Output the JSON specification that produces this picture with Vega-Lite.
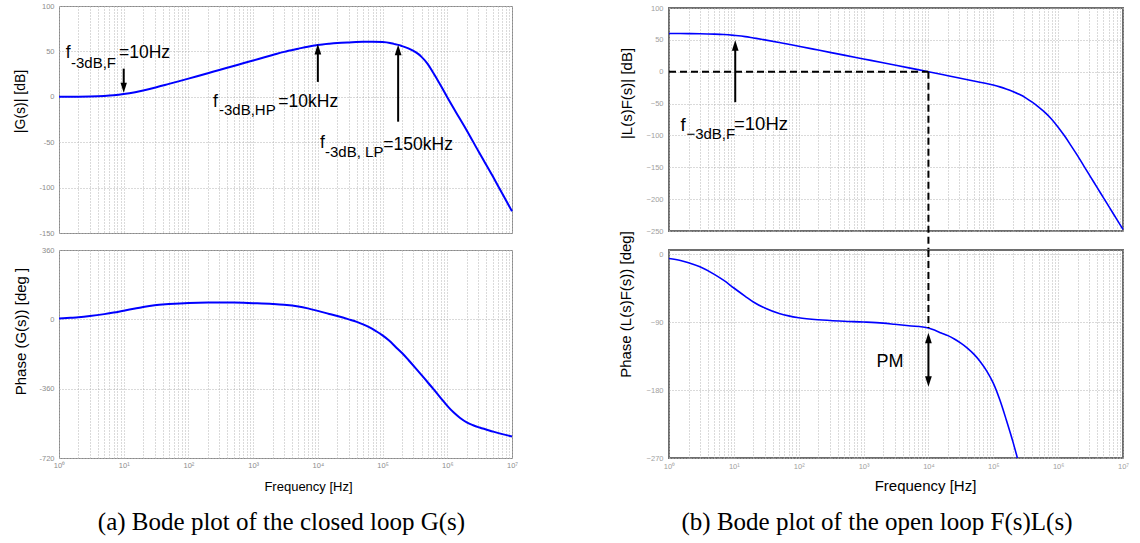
{
  "$schema": "https://vega.github.io/schema/vega-lite/v6.json",
  "background": "white",
  "padding": {"left": 12, "top": 1, "right": 0, "bottom": 0},
  "config": {
    "font": "Liberation Sans",
    "axis": {
      "labelFont": "Liberation Sans",
      "labelFontSize": 7.5,
      "labelColor": "#8c8c8c",
      "titleFont": "Liberation Sans",
      "titleFontWeight": "normal",
      "titleColor": "black",
      "domain": false,
      "ticks": false,
      "grid": true,
      "gridColor": "#b4b4b4",
      "gridDash": [1, 2],
      "gridWidth": 1,
      "labelOverlap": false,
      "labelFlush": false
    },
    "title": {"font": "Liberation Serif", "fontSize": 25, "fontWeight": "normal", "color": "black"}
  },
  "datasets": {
    "lt_curve": [
      {"f": 1, "v": 0}, {"f": 1.5, "v": 0.1}, {"f": 2, "v": 0.17}, {"f": 3, "v": 0.37}, {"f": 4, "v": 0.64}, {"f": 5, "v": 0.97}, {"f": 7, "v": 1.7},
      {"f": 10, "v": 3.0}, {"f": 15, "v": 5.1}, {"f": 20, "v": 7.0}, {"f": 30, "v": 10.0}, {"f": 50, "v": 14.2}, {"f": 70, "v": 17.0},
      {"f": 100, "v": 20.0}, {"f": 150, "v": 23.5}, {"f": 200, "v": 26.0}, {"f": 300, "v": 29.5}, {"f": 500, "v": 34.0}, {"f": 700, "v": 36.9},
      {"f": 1000, "v": 40.0}, {"f": 1500, "v": 43.5}, {"f": 2000, "v": 46.0}, {"f": 3000, "v": 49.5}, {"f": 5000, "v": 53.0}, {"f": 7000, "v": 55.2},
      {"f": 10000, "v": 57.0}, {"f": 15000, "v": 58.4}, {"f": 20000, "v": 59.2}, {"f": 30000, "v": 59.9}, {"f": 50000, "v": 60.5}, {"f": 70000, "v": 60.7},
      {"f": 100000, "v": 60.3}, {"f": 130000, "v": 59.3}, {"f": 150000, "v": 58.3}, {"f": 175000, "v": 57.2}, {"f": 200000, "v": 55.8},
      {"f": 250000, "v": 53.3}, {"f": 300000, "v": 50.5}, {"f": 350000, "v": 47.5}, {"f": 400000, "v": 44}, {"f": 500000, "v": 36},
      {"f": 600000, "v": 27}, {"f": 700000, "v": 19}, {"f": 800000, "v": 12}, {"f": 1000000, "v": -0.5}, {"f": 1500000, "v": -22},
      {"f": 2000000, "v": -37}, {"f": 3000000, "v": -59.5}, {"f": 5000000, "v": -87}, {"f": 7000000, "v": -106}, {"f": 10000000, "v": -126}
    ],
    "lb_curve": [
      {"f": 1, "v": 4}, {"f": 1.5, "v": 8}, {"f": 2, "v": 11}, {"f": 3, "v": 17}, {"f": 5, "v": 27}, {"f": 7, "v": 35},
      {"f": 10, "v": 45}, {"f": 15, "v": 56}, {"f": 20, "v": 64}, {"f": 30, "v": 73}, {"f": 50, "v": 79}, {"f": 100, "v": 85},
      {"f": 200, "v": 87}, {"f": 500, "v": 87}, {"f": 1000, "v": 84}, {"f": 2000, "v": 80}, {"f": 3000, "v": 76}, {"f": 5000, "v": 67},
      {"f": 7000, "v": 57}, {"f": 10000, "v": 44}, {"f": 15000, "v": 28}, {"f": 20000, "v": 17}, {"f": 30000, "v": 0},
      {"f": 40000, "v": -13}, {"f": 50000, "v": -26}, {"f": 63000, "v": -42}, {"f": 79000, "v": -61}, {"f": 100000, "v": -83},
      {"f": 126000, "v": -110}, {"f": 158000, "v": -142}, {"f": 200000, "v": -175}, {"f": 251000, "v": -211}, {"f": 316000, "v": -249},
      {"f": 398000, "v": -288}, {"f": 501000, "v": -328}, {"f": 631000, "v": -368}, {"f": 794000, "v": -409}, {"f": 1000000, "v": -449},
      {"f": 1260000, "v": -484}, {"f": 1580000, "v": -512}, {"f": 2000000, "v": -535}, {"f": 2510000, "v": -550}, {"f": 3160000, "v": -562},
      {"f": 5010000, "v": -582}, {"f": 7080000, "v": -596}, {"f": 10000000, "v": -608}
    ],
    "rt_curve": [
      {"f": 1, "v": 60}, {"f": 1.5, "v": 59.9}, {"f": 2, "v": 59.8}, {"f": 3, "v": 59.6}, {"f": 5, "v": 59.0}, {"f": 7, "v": 58.3},
      {"f": 10, "v": 57.0}, {"f": 15, "v": 55.1}, {"f": 20, "v": 53.0}, {"f": 30, "v": 50.0}, {"f": 50, "v": 45.9}, {"f": 70, "v": 43.0},
      {"f": 100, "v": 40.0}, {"f": 200, "v": 34.0}, {"f": 500, "v": 26.0}, {"f": 1000, "v": 20.0}, {"f": 2000, "v": 14.0}, {"f": 5000, "v": 6.0},
      {"f": 10000, "v": 0}, {"f": 20000, "v": -6.2}, {"f": 50000, "v": -14.5}, {"f": 100000, "v": -21}, {"f": 126000, "v": -23.8},
      {"f": 158000, "v": -27}, {"f": 200000, "v": -30.9}, {"f": 251000, "v": -35.5}, {"f": 316000, "v": -41}, {"f": 398000, "v": -47.8},
      {"f": 501000, "v": -55.5}, {"f": 631000, "v": -64.2}, {"f": 794000, "v": -74.5}, {"f": 1000000, "v": -87}, {"f": 1260000, "v": -101},
      {"f": 1580000, "v": -116}, {"f": 2000000, "v": -132}, {"f": 2510000, "v": -148.5}, {"f": 3160000, "v": -165}, {"f": 3980000, "v": -181.5},
      {"f": 5010000, "v": -198}, {"f": 6310000, "v": -214.5}, {"f": 7940000, "v": -231}, {"f": 10000000, "v": -247.5}
    ],
    "rb_curve": [
      {"f": 1, "v": -6}, {"f": 1.5, "v": -8.5}, {"f": 2, "v": -11.5}, {"f": 3, "v": -17}, {"f": 5, "v": -27}, {"f": 7, "v": -35},
      {"f": 10, "v": -45}, {"f": 15, "v": -56}, {"f": 20, "v": -63.5}, {"f": 30, "v": -71.5}, {"f": 50, "v": -78.7}, {"f": 70, "v": -81.9},
      {"f": 100, "v": -84.3}, {"f": 200, "v": -87.1}, {"f": 500, "v": -89}, {"f": 1000, "v": -90}, {"f": 2000, "v": -91.5}, {"f": 3000, "v": -93},
      {"f": 5000, "v": -95}, {"f": 10000, "v": -98}, {"f": 12600, "v": -101}, {"f": 15800, "v": -104.5}, {"f": 20000, "v": -108},
      {"f": 25100, "v": -112.5}, {"f": 31600, "v": -118}, {"f": 39800, "v": -124.5}, {"f": 50100, "v": -132.5}, {"f": 63100, "v": -142.5},
      {"f": 79400, "v": -155}, {"f": 100000, "v": -171}, {"f": 126000, "v": -193}, {"f": 158000, "v": -219}, {"f": 200000, "v": -248},
      {"f": 251000, "v": -279}
    ],
    "lt_shaft": [{"f": 10, "v": 31, "v2": 14.4}, {"f": 10000, "v": 16.4, "v2": 48.3}, {"f": 174000, "v": -27.4, "v2": 47.4}],
    "lt_head_down": [{"f": 10, "v": 4.5}],
    "lt_head_up": [{"f": 10000, "v": 58.2}, {"f": 174000, "v": 57.3}],
    "lt_txt": [
      {"f": 1.27, "v": 42.8, "t": "f"}, {"f": 8.46, "v": 42.8, "t": "=10Hz"},
      {"f": 240, "v": -11, "t": "f"}, {"f": 2450, "v": -11, "t": "=10kHz"},
      {"f": 10814, "v": -56.7, "t": "f"}, {"f": 102800, "v": -58.4, "t": "=150kHz"}
    ],
    "lt_sub": [{"f": 1.53, "v": 31.8, "t": "-3dB,F"}, {"f": 297, "v": -19.7, "t": "-3dB,HP"}, {"f": 12900, "v": -65.8, "t": "-3dB, LP"}],
    "rt_shaft": [{"f": 10.5, "v": -47.8, "v2": 35}],
    "rt_head_up": [{"f": 10.5, "v": 49.4}],
    "rt_dash_h": [{"f": 1, "f2": 10000, "v": 0}],
    "rt_dash_v": [{"f": 10000, "v": 0, "v2": -282}],
    "rt_txt": [{"f": 1.5, "v": -92.6, "t": "f"}, {"f": 10.05, "v": -91.5, "t": "=10Hz"}],
    "rt_sub": [{"f": 1.855, "v": -105.7, "t": "−3dB,F"}],
    "rb_dash_v": [{"f": 10000, "v": 5.3, "v2": -98}],
    "rb_shaft": [{"f": 10000, "v": -116, "v2": -163.5}],
    "rb_head_up": [{"f": 10000, "v": -104.2}],
    "rb_head_down": [{"f": 10000, "v": -175.6}],
    "rb_txt": [{"f": 1577, "v": -149.6, "t": "PM"}]
  },
  "columns": 2,
  "bounds": "flush",
  "center": true,
  "spacing": {"row": 17, "column": 157},
  "concat": [
    {
      "width": 453, "height": 227,
      "view": {"stroke": "#8a8a8a", "strokeWidth": 1},
      "encoding": {
        "x": {"field": "f", "type": "quantitative", "scale": {"type": "log", "domain": [1, 10000000], "nice": false},
          "axis": {"title": null, "labels": false, "values": [1,2,3,4,5,6,7,8,9,10,20,30,40,50,60,70,80,90,100,200,300,400,500,600,700,800,900,1000,2000,3000,4000,5000,6000,7000,8000,9000,10000,20000,30000,40000,50000,60000,70000,80000,90000,100000,200000,300000,400000,500000,600000,700000,800000,900000,1000000,2000000,3000000,4000000,5000000,6000000,7000000,8000000,9000000,10000000]}},
        "y": {"field": "v", "type": "quantitative", "scale": {"domain": [-150, 100], "nice": false, "zero": false},
          "axis": {"values": [-150, -100, -50, 0, 50, 100], "labelExpr": "'' + datum.value", "labelPadding": 5,
            "title": "|G(s)| [dB]", "titleFontSize": 14, "titleX": -39, "titleY": 95, "titleBaseline": "middle", "titleAlign": "center"}}
      },
      "layer": [
        {"data": {"name": "lt_curve"}, "mark": {"type": "line", "color": "#0000ff", "strokeWidth": 2, "interpolate": "monotone"}},
        {"data": {"name": "lt_shaft"}, "mark": {"type": "rule", "color": "black", "strokeWidth": 2}, "encoding": {"y2": {"field": "v2"}}},
        {"data": {"name": "lt_head_down"}, "mark": {"type": "point", "shape": "M0,0L-0.32,-1L0.32,-1Z", "size": 400, "filled": true, "color": "black", "opacity": 1, "strokeWidth": 0}},
        {"data": {"name": "lt_head_up"}, "mark": {"type": "point", "shape": "M0,0L-0.32,1L0.32,1Z", "size": 441, "filled": true, "color": "black", "opacity": 1, "strokeWidth": 0}},
        {"data": {"name": "lt_txt"}, "mark": {"type": "text", "align": "left", "baseline": "alphabetic", "fontSize": 17.5, "font": "Liberation Sans", "color": "black"}, "encoding": {"text": {"field": "t"}}},
        {"data": {"name": "lt_sub"}, "mark": {"type": "text", "align": "left", "baseline": "alphabetic", "fontSize": 15, "font": "Liberation Sans", "color": "black"}, "encoding": {"text": {"field": "t"}}}
      ]
    },
    {
      "width": 454, "height": 223,
      "view": {"stroke": "#6e6e6e", "strokeWidth": 2},
      "encoding": {
        "x": {"field": "f", "type": "quantitative", "scale": {"type": "log", "domain": [1, 10000000], "nice": false},
          "axis": {"title": null, "labels": false, "values": [1,2,3,4,5,6,7,8,9,10,20,30,40,50,60,70,80,90,100,200,300,400,500,600,700,800,900,1000,2000,3000,4000,5000,6000,7000,8000,9000,10000,20000,30000,40000,50000,60000,70000,80000,90000,100000,200000,300000,400000,500000,600000,700000,800000,900000,1000000,2000000,3000000,4000000,5000000,6000000,7000000,8000000,9000000,10000000]}},
        "y": {"field": "v", "type": "quantitative", "scale": {"domain": [-250, 100], "nice": false, "zero": false},
          "axis": {"values": [-250, -200, -150, -100, -50, 0, 50, 100], "labelPadding": 6, "labelColor": "#a0a0a0",
            "title": "|L(s)F(s)| [dB]", "titleFontSize": 15, "titleX": -43, "titleY": 85, "titleBaseline": "middle", "titleAlign": "center"}}
      },
      "layer": [
        {"data": {"name": "rt_curve"}, "mark": {"type": "line", "color": "#0000ff", "strokeWidth": 1.6, "interpolate": "monotone"}},
        {"data": {"name": "rt_dash_h"}, "mark": {"type": "rule", "color": "black", "strokeWidth": 2, "strokeDash": [7, 4]}, "encoding": {"x2": {"field": "f2"}}},
        {"data": {"name": "rt_dash_v"}, "mark": {"type": "rule", "color": "black", "strokeWidth": 2, "strokeDash": [7, 4]}, "encoding": {"y2": {"field": "v2"}}},
        {"data": {"name": "rt_shaft"}, "mark": {"type": "rule", "color": "black", "strokeWidth": 2}, "encoding": {"y2": {"field": "v2"}}},
        {"data": {"name": "rt_head_up"}, "mark": {"type": "point", "shape": "M0,0L-0.32,1L0.32,1Z", "size": 441, "filled": true, "color": "black", "opacity": 1, "strokeWidth": 0}},
        {"data": {"name": "rt_txt"}, "mark": {"type": "text", "align": "left", "baseline": "alphabetic", "fontSize": 18.5, "font": "Liberation Sans", "color": "black"}, "encoding": {"text": {"field": "t"}}},
        {"data": {"name": "rt_sub"}, "mark": {"type": "text", "align": "left", "baseline": "alphabetic", "fontSize": 15, "font": "Liberation Sans", "color": "black"}, "encoding": {"text": {"field": "t"}}}
      ]
    },
    {
      "width": 453, "height": 208,
      "view": {"stroke": "#8a8a8a", "strokeWidth": 1},
      "title": {"text": "(a) Bode plot of the closed loop G(s)", "orient": "bottom", "anchor": "middle", "dx": -4, "offset": 17},
      "encoding": {
        "x": {"field": "f", "type": "quantitative", "scale": {"type": "log", "domain": [1, 10000000], "nice": false},
          "axis": {"values": [1,2,3,4,5,6,7,8,9,10,20,30,40,50,60,70,80,90,100,200,300,400,500,600,700,800,900,1000,2000,3000,4000,5000,6000,7000,8000,9000,10000,20000,30000,40000,50000,60000,70000,80000,90000,100000,200000,300000,400000,500000,600000,700000,800000,900000,1000000,2000000,3000000,4000000,5000000,6000000,7000000,8000000,9000000,10000000],
            "labelExpr": "indexof([1,10,100,1000,10000,100000,1000000,10000000], datum.value) >= 0 ? '10' + ['⁰','¹','²','³','⁴','⁵','⁶','⁷'][indexof([1,10,100,1000,10000,100000,1000000,10000000], datum.value)] : ''",
            "labelPadding": 3,
            "title": "Frequency [Hz]", "titleFontSize": 13, "titleX": 249, "titleY": 28, "titleBaseline": "middle", "titleAlign": "center"}},
        "y": {"field": "v", "type": "quantitative", "scale": {"domain": [-720, 360], "nice": false, "zero": false},
          "axis": {"values": [-720, -360, 0, 360], "labelExpr": "'' + datum.value", "labelPadding": 5,
            "title": "Phase (G(s)) [deg ]", "titleFontSize": 15, "titleX": -39, "titleY": 81, "titleBaseline": "middle", "titleAlign": "center"}}
      },
      "layer": [
        {"data": {"name": "lb_curve"}, "mark": {"type": "line", "color": "#0000ff", "strokeWidth": 2, "interpolate": "monotone"}}
      ]
    },
    {
      "width": 454, "height": 208,
      "view": {"stroke": "#6e6e6e", "strokeWidth": 2},
      "title": {"text": "(b) Bode plot of the open loop F(s)L(s)", "orient": "bottom", "anchor": "middle", "dx": -19, "offset": 17},
      "encoding": {
        "x": {"field": "f", "type": "quantitative", "scale": {"type": "log", "domain": [1, 10000000], "nice": false},
          "axis": {"values": [1,2,3,4,5,6,7,8,9,10,20,30,40,50,60,70,80,90,100,200,300,400,500,600,700,800,900,1000,2000,3000,4000,5000,6000,7000,8000,9000,10000,20000,30000,40000,50000,60000,70000,80000,90000,100000,200000,300000,400000,500000,600000,700000,800000,900000,1000000,2000000,3000000,4000000,5000000,6000000,7000000,8000000,9000000,10000000],
            "labelExpr": "indexof([1,10,100,1000,10000,100000,1000000,10000000], datum.value) >= 0 ? '10' + ['⁰','¹','²','³','⁴','⁵','⁶','⁷'][indexof([1,10,100,1000,10000,100000,1000000,10000000], datum.value)] : ''",
            "labelPadding": 4, "labelColor": "#a0a0a0",
            "title": "Frequency [Hz]", "titleFontSize": 15, "titleX": 256, "titleY": 27, "titleBaseline": "middle", "titleAlign": "center"}},
        "y": {"field": "v", "type": "quantitative", "scale": {"domain": [-270, 5.3], "nice": false, "zero": false},
          "axis": {"values": [-270, -180, -90, 0], "labelPadding": 6, "labelColor": "#a0a0a0",
            "title": "Phase (L(s)F(s)) [deg]", "titleFontSize": 15, "titleX": -44, "titleY": 54, "titleBaseline": "middle", "titleAlign": "center"}}
      },
      "layer": [
        {"data": {"name": "rb_curve"}, "mark": {"type": "line", "color": "#0000ff", "strokeWidth": 1.6, "interpolate": "monotone", "clip": true}},
        {"data": {"name": "rb_dash_v"}, "mark": {"type": "rule", "color": "black", "strokeWidth": 2, "strokeDash": [7, 4]}, "encoding": {"y2": {"field": "v2"}}},
        {"data": {"name": "rb_shaft"}, "mark": {"type": "rule", "color": "black", "strokeWidth": 2}, "encoding": {"y2": {"field": "v2"}}},
        {"data": {"name": "rb_head_up"}, "mark": {"type": "point", "shape": "M0,0L-0.32,1L0.32,1Z", "size": 441, "filled": true, "color": "black", "opacity": 1, "strokeWidth": 0}},
        {"data": {"name": "rb_head_down"}, "mark": {"type": "point", "shape": "M0,0L-0.32,-1L0.32,-1Z", "size": 441, "filled": true, "color": "black", "opacity": 1, "strokeWidth": 0}},
        {"data": {"name": "rb_txt"}, "mark": {"type": "text", "align": "left", "baseline": "alphabetic", "fontSize": 18, "font": "Liberation Sans", "color": "black"}, "encoding": {"text": {"field": "t"}}}
      ]
    }
  ]
}
